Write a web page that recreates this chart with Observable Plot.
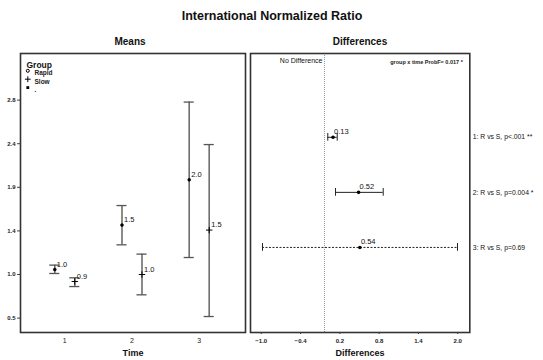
<!DOCTYPE html>
<html>
<head>
<meta charset="utf-8">
<script src="https://cdn.jsdelivr.net/npm/d3@7"></script>
<script src="https://cdn.jsdelivr.net/npm/@observablehq/plot@0.6"></script>
<style>
  html, body { margin: 0; padding: 0; background: #fff; }
  #wrap { position: relative; width: 543px; height: 360px; overflow: hidden; font-family: "Liberation Sans", Arial, sans-serif; color: #111; }
  .lbl { position: absolute; white-space: nowrap; font-weight: bold; transform: translate(-50%, -50%); }
  .panel { position: absolute; top: 0; }
</style>
</head>
<body>
<div id="wrap">
  <div class="lbl" style="left:272px; top:16px; font-size:12.5px;">International Normalized Ratio</div>
  <div class="lbl" style="left:130px; top:41px; font-size:10px;">Means</div>
  <div class="lbl" style="left:360px; top:41px; font-size:10px;">Differences</div>
  <div class="lbl" style="left:133px; top:353px; font-size:9px;">Time</div>
  <div class="lbl" style="left:360px; top:353px; font-size:9px;">Differences</div>
  <div id="left" class="panel" style="left:0px;"></div>
  <div id="right" class="panel" style="left:248px;"></div>
</div>
<script>
// ---- Means panel data ----
const times = [1, 2, 3];
const meanRapid  = [1.034, 1.507, 1.989];
const lowerRapid = [0.992, 1.297, 1.162];
const upperRapid = [1.081, 1.715, 2.816];
const labelRapid = ["1.0", "1.5", "2.0"];
const meanSlow  = [0.907, 0.981, 1.454];
const lowerSlow = [0.853, 0.765, 0.534];
const upperSlow = [0.946, 1.198, 2.364];
const labelSlow = ["0.9", "1.0", "1.5"];
const yTicks = [0.517, 0.981, 1.445, 1.909, 2.373, 2.837];
const legendTitle = "Group";
const legendItems = ["Rapid", "Slow", "."];
const legendSymbols = ["circle", "plus", "square"];

// ---- Differences panel data ----
const contrasts = ["1: R vs S, p<.001 **", "2: R vs S, p=0.004 *", "3: R vs S, p=0.69"];
const diffEst   = [0.13, 0.52, 0.54];
const diffLower = [0.05, 0.168, -0.947];
const diffUpper = [0.194, 0.896, 2.03];
const diffLabels = ["0.13", "0.52", "0.54"];
const diffP = [0.001, 0.004, 0.69];
const xTicks = [-0.966, -0.366, 0.234, 0.834, 1.434, 2.034];
const interactionNote = "group x time ProbF= 0.017 *";
const refLabel = "No Difference";

const FONT = "Liberation Sans, Arial, sans-serif";
const fmt1 = d3.format(".1f");

const rapid = times.map((t, i) => ({time: t, mean: meanRapid[i], lo: lowerRapid[i], hi: upperRapid[i], label: labelRapid[i]}));
const slow  = times.map((t, i) => ({time: t, mean: meanSlow[i], lo: lowerSlow[i], hi: upperSlow[i], label: labelSlow[i]}));

function groupMarks(data, dx, symbol) {
  const cap = 0.075;
  return [
    Plot.ruleX(data, {x: "time", y1: "lo", y2: "hi", dx, stroke: "#6e6e6e", strokeWidth: 1.6}),
    Plot.ruleY(data, {y: "hi", x1: d => d.time - cap, x2: d => d.time + cap, dx, stroke: "#555", strokeWidth: 1.3}),
    Plot.ruleY(data, {y: "lo", x1: d => d.time - cap, x2: d => d.time + cap, dx, stroke: "#555", strokeWidth: 1.3}),
    symbol === "circle"
      ? Plot.dot(data, {x: "time", y: "mean", dx, r: 1.5, fill: "#000", stroke: "#000", strokeWidth: 0.5})
      : Plot.dot(data, {x: "time", y: "mean", dx, r: 2.2, symbol: "plus", stroke: "#000", strokeWidth: 1}),
    Plot.text(data, {x: "time", y: "mean", text: "label", dx: dx + 2, dy: -5, textAnchor: "start", fontSize: 7.5, fill: "#111"})
  ];
}

const legendRows = legendItems.map((t, i) => ({text: t, symbol: legendSymbols[i], i}));
const legendMarks = legendRows.flatMap(d => [
  d.symbol === "circle"
    ? Plot.dot([d], {frameAnchor: "top-left", dx: 7.3, dy: 17.3 + d.i * 8.4, r: 1.5, stroke: "#000", fill: "none", strokeWidth: 1})
    : d.symbol === "plus"
      ? Plot.dot([d], {frameAnchor: "top-left", dx: 7.3, dy: 17.3 + d.i * 8.4, r: 2, symbol: "plus", stroke: "#000", strokeWidth: 1})
      : Plot.dot([d], {frameAnchor: "top-left", dx: 7.3, dy: 17.3 + d.i * 8.4, r: 1.6, symbol: "square", fill: "#000"}),
  Plot.text([d], {frameAnchor: "top-left", dx: 14, dy: 17.3 + d.i * 8.4, text: "text", textAnchor: "start", fontSize: 6.5, fontWeight: "bold", fill: "#222"})
]);

const left = Plot.plot({
  width: 250, height: 360,
  marginLeft: 20, marginRight: 5, marginTop: 53, marginBottom: 28,
  style: {fontFamily: FONT, fontSize: "7px", background: "transparent", color: "#222", overflow: "visible"},
  x: {domain: [0.341, 3.689]},
  y: {domain: [0.364, 3.333]},
  marks: [
    Plot.axisY({ticks: yTicks, tickFormat: fmt1, tickSize: 3, tickPadding: 2, fontSize: 6, fontWeight: "bold", label: null, stroke: "#444"}),
    Plot.axisX({ticks: times, tickFormat: d3.format("d"), tickSize: 0, tickPadding: 6, fontSize: 7, label: null}),
    ...groupMarks(rapid, -10, "circle"),
    ...groupMarks(slow, 10, "plus"),
    Plot.text([legendTitle], {frameAnchor: "top-left", dx: 6, dy: 8, text: d => d, textAnchor: "start", fontWeight: "bold", fontSize: 8.5, fill: "#111"}),
    ...legendMarks,
    Plot.frame({stroke: "#333", strokeWidth: 1.6})
  ]
});
document.getElementById("left").appendChild(left);

const diffs = contrasts.map((c, i) => ({row: i + 1, contrast: c, est: diffEst[i], lo: diffLower[i], hi: diffUpper[i], label: diffLabels[i], p: diffP[i]}));
const sig = diffs.filter(d => d.p < 0.05);
const nonsig = diffs.filter(d => d.p >= 0.05);

const right = Plot.plot({
  width: 295, height: 360,
  marginLeft: 2, marginRight: 73.7, marginTop: 53, marginBottom: 28,
  style: {fontFamily: FONT, fontSize: "7px", background: "transparent", color: "#222", overflow: "visible"},
  x: {domain: [-1.13, 2.218]},
  y: {domain: [4.545, -0.522], axis: null},
  marks: [
    Plot.axisX({ticks: xTicks, tickFormat: fmt1, tickSize: 2, tickPadding: 4, fontSize: 6, fontWeight: "bold", label: null, stroke: "#444"}),
    Plot.ruleX([0], {x: d => d, stroke: "#999", strokeWidth: 1, strokeDasharray: "1,1"}),
    Plot.text([refLabel], {x: () => 0, frameAnchor: "top", dy: 4.5, dx: -2, text: d => d, textAnchor: "end", fontSize: 7, fill: "#111"}),
    Plot.text([interactionNote], {frameAnchor: "top-right", dx: -7, dy: 6.5, text: d => d, textAnchor: "end", fontSize: 5.5, fontWeight: "bold", fill: "#222"}),
    Plot.ruleY(sig, {y: "row", x1: "lo", x2: "hi", stroke: "#222", strokeWidth: 1}),
    Plot.ruleY(nonsig, {y: "row", x1: "lo", x2: "hi", stroke: "#222", strokeWidth: 1, strokeDasharray: "2,1.5"}),
    Plot.ruleX(diffs, {x: "lo", y1: d => d.row - 0.07, y2: d => d.row + 0.07, stroke: "#222", strokeWidth: 1}),
    Plot.ruleX(diffs, {x: "hi", y1: d => d.row - 0.07, y2: d => d.row + 0.07, stroke: "#222", strokeWidth: 1}),
    Plot.dot(diffs, {x: "est", y: "row", r: 1.8, fill: "#000"}),
    Plot.text(diffs, {x: "est", y: "row", text: "label", dx: 1, dy: -6, textAnchor: "start", fontSize: 7.5, fill: "#111"}),
    Plot.text(diffs, {y: "row", text: "contrast", frameAnchor: "right", dx: 3, textAnchor: "start", fontSize: 6.8, fill: "#111"}),
    Plot.frame({stroke: "#333", strokeWidth: 1.6})
  ]
});
document.getElementById("right").appendChild(right);
</script>
</body>
</html>
